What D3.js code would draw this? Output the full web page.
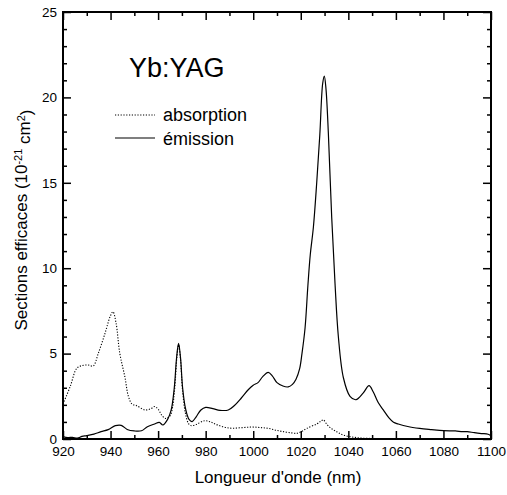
<!DOCTYPE html>
<html><head><meta charset="utf-8">
<script src="https://cdn.jsdelivr.net/npm/d3@7"></script>
<style>body{margin:0;background:#fff}svg{display:block}text{font-family:"Liberation Sans",Arial,sans-serif;fill:#000}</style>
</head><body><svg id="c" width="507" height="495"></svg>
<script>
const emX=[920,922,924,926,928,930,933,936,939,942,944.5,947,950,953,955.5,958.5,960.5,962,964,965.5,966.8,967.8,968.6,969.4,970.3,971.5,973,974.3,976,978,980,983,986,989.5,992,995,998,1000,1002,1004,1006.3,1008,1010,1012.5,1014.7,1016.5,1018,1019.5,1020.5,1021.8,1023,1024,1025.3,1026.7,1028,1029.2,1029.9,1030.6,1031.6,1033,1034.4,1035.8,1037.9,1040.7,1043.2,1046.3,1048.7,1050.5,1052.5,1054.7,1057,1059,1061,1065,1070,1075,1080,1085,1088,1090,1093,1096,1098.8,1100];
const emY=[0.14,0.08,0.1,0.05,0.15,0.2,0.29,0.43,0.55,0.78,0.8,0.56,0.47,0.48,0.72,0.88,0.97,0.82,1.15,1.7,3.0,4.8,5.6,4.8,3.0,1.8,1.15,1.02,1.3,1.7,1.85,1.78,1.68,1.7,1.95,2.4,2.9,3.15,3.3,3.65,3.9,3.7,3.3,3.1,3.05,3.2,3.5,4.1,5.0,6.5,9.0,10.8,12.4,15.0,17.8,20.8,21.25,20.5,17.9,13,9.1,6.0,3.6,2.5,2.3,2.7,3.12,2.75,2.15,1.7,1.25,0.98,0.88,0.73,0.62,0.55,0.49,0.47,0.43,0.43,0.37,0.32,0.28,0.18];
const abX=[920,923,925.8,928,930.6,932.7,934.8,937.7,939.8,941,942.3,943.9,946,947.5,949,951,954.5,957,958.5,960,961.5,963.2,965,966,967,967.9,968.6,969.4,970.3,971.5,972.8,974,976,979.5,982,985,990,995,999.3,1003,1006.5,1010,1013,1016,1018.3,1020.5,1022.5,1026.7,1028.5,1029.5,1031,1033,1035.1,1037,1039.3,1041.5,1043.5,1046,1050];
const abY=[2.05,3.06,4.14,4.3,4.33,4.27,5.0,6.2,7.16,7.45,6.8,5.0,3.65,2.5,2.05,1.95,1.7,1.78,1.9,1.75,1.4,1.2,1.35,1.8,3.0,4.8,5.5,4.7,2.8,1.5,0.9,0.78,0.85,1.07,1.0,0.82,0.64,0.66,0.7,0.67,0.62,0.5,0.42,0.36,0.33,0.45,0.62,0.88,1.05,1.12,0.85,0.6,0.43,0.28,0.18,0.12,0.08,0.05,0.03];
const xMajor=[920,940,960,980,1000,1020,1040,1060,1080,1100];
const xMinor=[930,950,970,990,1010,1030,1050,1070,1090];
const yMajor=[0,5,10,15,20,25];
const yMinor=d3.range(0,26).filter(v=>v%5!==0);
const seriesNames=["absorption","émission"];
const title="Yb:YAG";

const svg=d3.select("#c");
const L=63,R=491,T=12,B=439;
const x=d3.scaleLinear().domain([920,1100]).range([L,R]);
const y=d3.scaleLinear().domain([0,25]).range([B,T]);

const line=d3.line().x(d=>x(d[0])).y(d=>y(d[1])).curve(d3.curveCatmullRom.alpha(0.5));
const clip=svg.append("clipPath").attr("id","cp").append("rect").attr("x",L).attr("y",T).attr("width",R-L).attr("height",B-T);
const g=svg.append("g").attr("clip-path","url(#cp)");
g.append("path").datum(abX.map((v,i)=>[v,abY[i]])).attr("d",line).attr("fill","none").attr("stroke","#000").attr("stroke-width",1.1).attr("stroke-dasharray","1.2,1.6");
g.append("path").datum(emX.map((v,i)=>[v,emY[i]])).attr("d",line).attr("fill","none").attr("stroke","#000").attr("stroke-width",1.2);

function ax(gen,tr,vals,size,labels){
  const a=svg.append("g").attr("transform",tr).call(gen.tickValues(vals).tickSize(size).tickSizeOuter(0).tickPadding(labels?6:0).tickFormat(labels?d3.format("d"):""));
  a.select(".domain").remove();
  a.selectAll("line").attr("stroke","#000").attr("stroke-width",1.5);
  a.selectAll("text").style("font-size","13.5px").attr("fill","#000");
  return a;
}
ax(d3.axisBottom(x),`translate(0,${B})`,xMajor,-8,true).selectAll("text").attr("dy","0.85em");
ax(d3.axisBottom(x),`translate(0,${B})`,xMinor,-4,false);
ax(d3.axisTop(x),`translate(0,${T})`,xMajor,-8,false);
ax(d3.axisTop(x),`translate(0,${T})`,xMinor,-4,false);
ax(d3.axisLeft(y),`translate(${L},0)`,yMajor,-8,true);
ax(d3.axisLeft(y),`translate(${L},0)`,yMinor,-4,false);
ax(d3.axisRight(y),`translate(${R},0)`,yMajor,-8,false);
ax(d3.axisRight(y),`translate(${R},0)`,yMinor,-4,false);

svg.append("rect").attr("x",L).attr("y",T).attr("width",R-L).attr("height",B-T).attr("fill","none").attr("stroke","#000").attr("stroke-width",2);

svg.append("text").attr("x",278).attr("y",483).attr("text-anchor","middle").style("font-size","17px").text("Longueur d'onde (nm)");
const yl=svg.append("text").attr("transform","translate(27,220) rotate(-90)").attr("text-anchor","middle").style("font-size","17px");
yl.append("tspan").text("Sections efficaces (10");
yl.append("tspan").attr("dy","-0.45em").style("font-size","11px").text("-21");
yl.append("tspan").attr("dy","0.45em").text(" cm");
yl.append("tspan").attr("dy","-0.45em").style("font-size","11px").text("2");
yl.append("tspan").attr("dy","0.45em").text(")");

svg.append("text").attr("x",129).attr("y",77).style("font-size","27px").text(title);
svg.append("line").attr("x1",115).attr("x2",155).attr("y1",115).attr("y2",115).attr("stroke","#000").attr("stroke-width",1.1).attr("stroke-dasharray","1.2,1.6");
svg.append("line").attr("x1",115).attr("x2",155).attr("y1",138).attr("y2",138).attr("stroke","#000").attr("stroke-width",1.2);
svg.append("text").attr("x",163).attr("y",121).style("font-size","18px").text(seriesNames[0]);
svg.append("text").attr("x",163).attr("y",145).style("font-size","18px").text(seriesNames[1]);
</script></body></html>
